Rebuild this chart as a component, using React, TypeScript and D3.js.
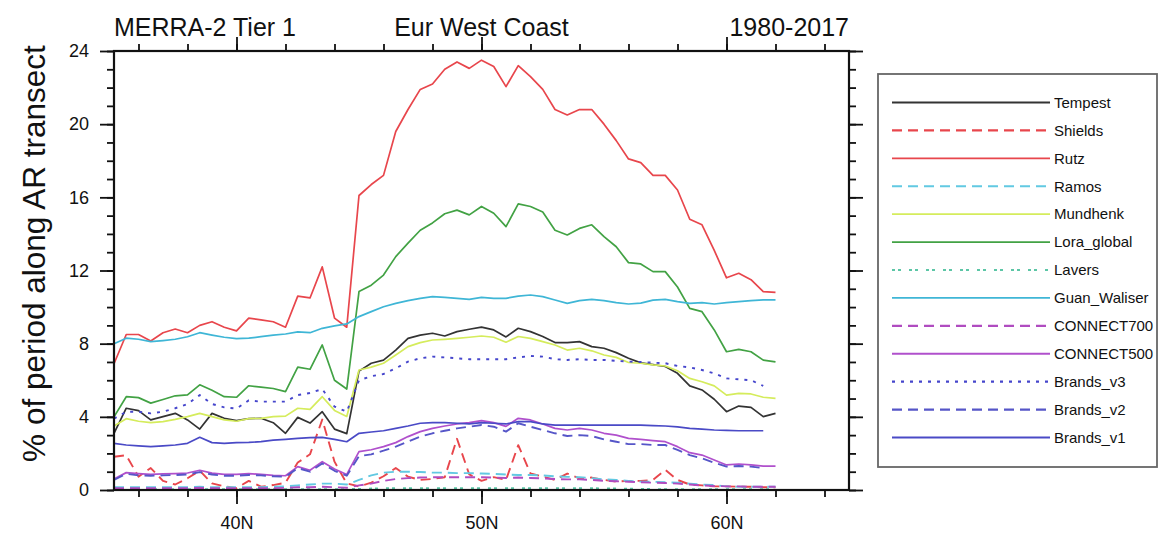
import React, { useEffect, useRef } from "react";
import * as d3 from "d3";

// latitude of each sample (deg N)
const lats = [
  35, 35.5, 36, 36.5, 37, 37.5, 38, 38.5, 39, 39.5, 40, 40.5, 41, 41.5, 42, 42.5, 43, 43.5, 44, 44.5,
  45, 45.5, 46, 46.5, 47, 47.5, 48, 48.5, 49, 49.5, 50, 50.5, 51, 51.5, 52, 52.5, 53, 53.5, 54, 54.5,
  55, 55.5, 56, 56.5, 57, 57.5, 58, 58.5, 59, 59.5, 60, 60.5, 61, 61.5, 62,
];

const tempest = [
  3.1, 4.47, 4.34, 3.83, 4.01, 4.19, 3.83, 3.33, 4.19, 3.92, 3.79, 3.9, 3.92, 3.68, 3.1, 3.97, 3.66, 4.28, 3.33, 3.08,
  6.5, 6.93, 7.1, 7.65, 8.29, 8.47, 8.57, 8.42, 8.66, 8.79, 8.9, 8.75, 8.37, 8.84, 8.66, 8.39, 8.06, 8.06, 8.11, 7.84,
  7.75, 7.51, 7.2, 6.95, 6.85, 6.75, 6.38, 5.69, 5.47, 4.96, 4.28, 4.59, 4.52, 4.01, 4.19,
];
const shields = [
  1.82, 1.9, 0.73, 1.2, 0.5, 0.3, 0.64, 1.06, 0.36, 0.2, 0.1, 0.5, 0.18, 0.27, 0.4, 1.5, 1.95, 3.85, 1.55, 0.36,
  0.2, 0.4, 0.75, 1.2, 0.73, 0.55, 0.6, 0.7, 2.8, 0.85, 0.5, 0.7, 0.55, 2.45, 0.9, 0.73, 0.55, 0.9, 0.64, 0.68,
  0.55, 0.46, 0.5, 0.5, 0.55, 1.1, 0.55, 0.3, 0.25, 0.2, 0.2, 0.18, 0.18, 0.15, 0.15,
];
const rutz = [
  6.9, 8.5, 8.5, 8.15, 8.6, 8.8, 8.6, 9.0, 9.2, 8.9, 8.7, 9.4, 9.3, 9.2, 8.9, 10.6, 10.5, 12.2, 9.4, 8.9,
  16.1, 16.7, 17.2, 19.6, 20.8, 21.9, 22.2, 23.0, 23.4, 23.05, 23.5, 23.15, 22.05, 23.2, 22.6, 21.9, 20.8, 20.5, 20.8, 20.8,
  20.0, 19.1, 18.1, 17.9, 17.2, 17.2, 16.4, 14.8, 14.5, 13.1, 11.6, 11.85, 11.5, 10.85, 10.8,
];
const ramos = [
  0.15, 0.15, 0.15, 0.15, 0.15, 0.15, 0.15, 0.18, 0.15, 0.15, 0.15, 0.15, 0.15, 0.18, 0.2, 0.25, 0.3, 0.35, 0.35, 0.3,
  0.55, 0.8, 0.95, 1.0, 1.0, 0.98, 0.95, 0.95, 0.92, 0.92, 0.9, 0.88, 0.85, 0.82, 0.82, 0.8, 0.75, 0.72, 0.7, 0.65,
  0.58, 0.55, 0.5, 0.46, 0.45, 0.42, 0.4, 0.35, 0.3, 0.27, 0.2, 0.18, 0.18, 0.18, 0.18,
];
const mundhenk = [
  3.5, 3.9, 3.76, 3.68, 3.74, 3.86, 4.01, 4.19, 4.01, 3.83, 3.76, 3.9, 3.92, 4.01, 4.04, 4.47, 4.41, 5.1, 4.35, 4.02,
  6.56, 6.72, 6.93, 7.38, 7.84, 8.06, 8.2, 8.24, 8.29, 8.35, 8.42, 8.35, 8.08, 8.39, 8.29, 8.11, 7.93, 7.65, 7.75, 7.61,
  7.38, 7.25, 6.97, 6.93, 6.84, 6.78, 6.52, 6.1, 5.92, 5.69, 5.19, 5.28, 5.25, 5.07, 5.01,
];
const loraGlobal = [
  4.0, 5.1, 5.05, 4.75, 4.95, 5.15, 5.2, 5.75, 5.45, 5.1, 5.07, 5.7, 5.62, 5.55, 5.38, 6.72, 6.6, 7.93, 6.0, 5.52,
  10.85, 11.2, 11.75, 12.76, 13.5, 14.2, 14.6, 15.1, 15.3, 15.04, 15.5, 15.13, 14.4, 15.64, 15.5, 15.2, 14.2, 13.94, 14.3, 14.5,
  13.85, 13.3, 12.43, 12.36, 11.94, 11.94, 11.1, 9.93, 9.75, 8.75, 7.56, 7.69, 7.56, 7.1, 7.0,
];
const lavers = [
  0.05, 0.05, 0.05, 0.05, 0.05, 0.05, 0.05, 0.05, 0.05, 0.05, 0.05, 0.05, 0.05, 0.05, 0.05, 0.05, 0.05, 0.05, 0.05, 0.05,
  0.06, 0.08, 0.1, 0.1, 0.1, 0.1, 0.1, 0.1, 0.1, 0.1, 0.1, 0.1, 0.1, 0.1, 0.1, 0.1, 0.1, 0.1, 0.1, 0.1,
  0.08, 0.08, 0.07, 0.06, 0.05, 0.05, 0.05, 0.05, 0.05, 0.05, 0.05, 0.05, 0.05, 0.05, 0.05,
];
const guanWaliser = [
  8.0, 8.3, 8.24, 8.11, 8.17, 8.24, 8.38, 8.6, 8.47, 8.35, 8.28, 8.3, 8.38, 8.47, 8.53, 8.64, 8.6, 8.84, 8.97, 9.08,
  9.48, 9.75, 10.02, 10.2, 10.35, 10.48, 10.57, 10.53, 10.48, 10.42, 10.53, 10.48, 10.48, 10.6, 10.66, 10.57, 10.39, 10.2, 10.35, 10.42,
  10.35, 10.24, 10.17, 10.22, 10.38, 10.42, 10.3, 10.2, 10.24, 10.17, 10.24, 10.3, 10.35, 10.39, 10.39,
];
const connect700 = [
  0.1, 0.1, 0.1, 0.1, 0.1, 0.1, 0.1, 0.12, 0.1, 0.1, 0.1, 0.1, 0.1, 0.1, 0.12, 0.15, 0.15, 0.18, 0.15, 0.12,
  0.25, 0.35, 0.5, 0.6, 0.65, 0.68, 0.7, 0.7, 0.7, 0.7, 0.7, 0.68, 0.66, 0.68, 0.66, 0.64, 0.6, 0.58, 0.58, 0.55,
  0.5, 0.48, 0.45, 0.42, 0.4, 0.38, 0.35, 0.3, 0.25, 0.22, 0.2, 0.2, 0.18, 0.18, 0.18,
];
const connect500 = [
  0.6, 0.95, 0.9, 0.85, 0.88, 0.9, 0.93, 1.08, 0.92, 0.85, 0.85, 0.9, 0.85, 0.8, 0.78, 1.28, 1.08, 1.55, 1.15, 0.85,
  2.1, 2.2, 2.37, 2.59, 2.92, 3.19, 3.37, 3.5, 3.61, 3.68, 3.79, 3.68, 3.48, 3.92, 3.83, 3.61, 3.37, 3.28, 3.37, 3.28,
  3.1, 3.0, 2.82, 2.77, 2.7, 2.64, 2.37, 2.04, 1.91, 1.64, 1.37, 1.42, 1.37, 1.31, 1.31,
];
// the Brands_* curves stop at 61.5N
const brandsV3 = [
  3.9, 4.28, 4.28, 4.19, 4.28, 4.47, 4.7, 5.19, 4.7, 4.52, 4.45, 4.9, 4.83, 4.83, 4.83, 5.19, 5.3, 5.52, 4.56, 4.28,
  6.0, 6.22, 6.34, 6.65, 7.02, 7.2, 7.29, 7.25, 7.2, 7.15, 7.15, 7.15, 7.15, 7.25, 7.33, 7.29, 7.15, 7.11, 7.15, 7.11,
  7.11, 7.06, 7.02, 7.0, 6.96, 6.93, 6.78, 6.7, 6.56, 6.38, 6.1, 6.05, 6.0, 5.69,
];
const brandsV2 = [
  0.55, 0.88, 0.8, 0.78, 0.8, 0.82, 0.85, 0.98, 0.85, 0.78, 0.78, 0.82, 0.8, 0.75, 0.72, 1.2, 1.0, 1.45, 1.05, 0.78,
  1.85, 1.95, 2.15, 2.37, 2.64, 2.92, 3.1, 3.24, 3.37, 3.46, 3.55, 3.46, 3.19, 3.65, 3.46, 3.28, 3.1, 2.95, 3.0, 2.95,
  2.77, 2.64, 2.51, 2.51, 2.46, 2.46, 2.19, 1.91, 1.73, 1.49, 1.28, 1.31, 1.28, 1.2,
];
const brandsV1 = [
  2.55, 2.46, 2.41, 2.37, 2.41, 2.46, 2.55, 2.88, 2.59, 2.55, 2.59, 2.6, 2.64, 2.73, 2.77, 2.82, 2.86, 2.88, 2.77, 2.64,
  3.1, 3.17, 3.24, 3.37, 3.5, 3.65, 3.68, 3.68, 3.65, 3.61, 3.68, 3.65, 3.61, 3.74, 3.74, 3.61, 3.55, 3.55, 3.55, 3.55,
  3.55, 3.55, 3.55, 3.55, 3.52, 3.5, 3.45, 3.37, 3.33, 3.28, 3.26, 3.24, 3.24, 3.24,
];

const series = [
  { name: "Tempest", values: tempest, color: "#333333", dash: null },
  { name: "Shields", values: shields, color: "#e8464c", dash: "10,6" },
  { name: "Rutz", values: rutz, color: "#e8464c", dash: null },
  { name: "Ramos", values: ramos, color: "#62c9e2", dash: "10,6" },
  { name: "Mundhenk", values: mundhenk, color: "#d5ec5c", dash: null },
  { name: "Lora_global", values: loraGlobal, color: "#42a244", dash: null },
  { name: "Lavers", values: lavers, color: "#5cc6a6", dash: "3,3,3,8" },
  { name: "Guan_Waliser", values: guanWaliser, color: "#3fb6d6", dash: null },
  { name: "CONNECT700", values: connect700, color: "#b04cc0", dash: "10,6" },
  { name: "CONNECT500", values: connect500, color: "#b050cc", dash: null },
  { name: "Brands_v3", values: brandsV3, color: "#4646cc", dash: "3,6" },
  { name: "Brands_v2", values: brandsV2, color: "#5656c8", dash: "10,6" },
  { name: "Brands_v1", values: brandsV1, color: "#4a4ac6", dash: null },
];

const yMajor = [0, 4, 8, 12, 16, 20, 24];
const yMinor = d3.range(0, 25, 1);
const xMajor = [40, 50, 60];
const xMinor = d3.range(36, 65, 2);

const FONT = "'Liberation Sans', Arial, Helvetica, sans-serif";

export default function App() {
  const svgRef = useRef<SVGSVGElement>(null);

  useEffect(() => {
    const w = 1166;
    const h = 538;
    const left = 114, right = 849, top = 51, bottom = 490;

    const x = d3.scaleLinear().domain([35, 65]).range([left, right]);
    const y = d3.scaleLinear().domain([0, 24]).range([bottom, top]);

    const svg = d3.select(svgRef.current).attr("width", w).attr("height", h);
    svg.selectAll("*").remove();

    svg.append("rect").attr("width", w).attr("height", h).attr("fill", "white");

    // curves
    const plot = svg.append("g");
    series.forEach((s) => {
      const line = d3
        .line<number>()
        .x((_, i) => x(lats[i]))
        .y((d) => y(d));
      plot
        .append("path")
        .attr("d", line(s.values))
        .attr("fill", "none")
        .attr("stroke", s.color)
        .attr("stroke-width", s.dash ? 1.9 : 1.7)
        .attr("stroke-dasharray", s.dash)
        .attr("stroke-linejoin", "round");
    });

    // axes: outward ticks on all four sides
    const addAxis = (axis: any, tr: string, labels: boolean) => {
      const g = svg.append("g").attr("transform", tr).call(axis);
      g.select(".domain").remove();
      g.selectAll("line").attr("stroke", "#111").attr("stroke-width", 1.8);
      if (!labels) g.selectAll("text").remove();
      return g;
    };

    addAxis(d3.axisLeft(y).tickValues(yMinor).tickSize(7), `translate(${left},0)`, false);
    addAxis(d3.axisRight(y).tickValues(yMinor).tickSize(7), `translate(${right},0)`, false);
    addAxis(d3.axisRight(y).tickValues(yMajor).tickSize(14), `translate(${right},0)`, false);
    const yl = addAxis(
      d3.axisLeft(y).tickValues(yMajor).tickSize(14).tickPadding(11),
      `translate(${left},0)`,
      true
    );
    yl.selectAll("text").attr("font-size", 18).attr("font-family", FONT).attr("fill", "#111");

    addAxis(d3.axisBottom(x).tickValues(xMinor).tickSize(7), `translate(0,${bottom})`, false);
    addAxis(d3.axisTop(x).tickValues(xMinor).tickSize(7), `translate(0,${top})`, false);
    addAxis(d3.axisTop(x).tickValues(xMajor).tickSize(14), `translate(0,${top})`, false);
    const xl = addAxis(
      d3.axisBottom(x).tickValues(xMajor).tickSize(14).tickPadding(12).tickFormat((d: any) => `${d}N`),
      `translate(0,${bottom})`,
      true
    );
    xl.selectAll("text").attr("font-size", 18).attr("font-family", FONT).attr("fill", "#111");

    // frame
    svg
      .append("rect")
      .attr("x", left)
      .attr("y", top)
      .attr("width", right - left)
      .attr("height", bottom - top)
      .attr("fill", "none")
      .attr("stroke", "#111")
      .attr("stroke-width", 2.2);

    // titles
    const title = (txt: string, tx: number, anchor: string) =>
      svg
        .append("text")
        .attr("x", tx)
        .attr("y", 36)
        .attr("text-anchor", anchor)
        .attr("font-size", 25)
        .attr("font-family", FONT)
        .attr("fill", "#111")
        .text(txt);
    title("MERRA-2 Tier 1", left, "start");
    title("Eur West Coast", x(50), "middle");
    title("1980-2017", right, "end");

    svg
      .append("text")
      .attr("transform", `translate(45,${(top + bottom) / 2 - 17}) rotate(-90)`)
      .attr("text-anchor", "middle")
      .attr("font-size", 31.5)
      .attr("font-family", FONT)
      .attr("fill", "#111")
      .text("% of period along AR transect");

    // legend
    const lg = svg.append("g");
    lg.append("rect")
      .attr("x", 878)
      .attr("y", 74)
      .attr("width", 279)
      .attr("height", 393)
      .attr("fill", "white")
      .attr("stroke", "#666")
      .attr("stroke-width", 1.8);
    const rowY = d3.scalePoint<string>().domain(series.map((s) => s.name)).range([102.5, 437.5]);
    series.forEach((s) => {
      const yy = rowY(s.name)!;
      lg.append("line")
        .attr("x1", 892)
        .attr("x2", 1050)
        .attr("y1", yy)
        .attr("y2", yy)
        .attr("stroke", s.color)
        .attr("stroke-width", s.dash ? 2.2 : 1.8)
        .attr("stroke-dasharray", s.dash);
      lg.append("text")
        .attr("x", 1054)
        .attr("y", yy)
        .attr("dy", "0.35em")
        .attr("font-size", 15)
        .attr("font-family", FONT)
        .attr("fill", "#111")
        .text(s.name);
    });
  }, []);

  return <svg ref={svgRef} style={{ position: "absolute", left: 0, top: 0 }} />;
}
